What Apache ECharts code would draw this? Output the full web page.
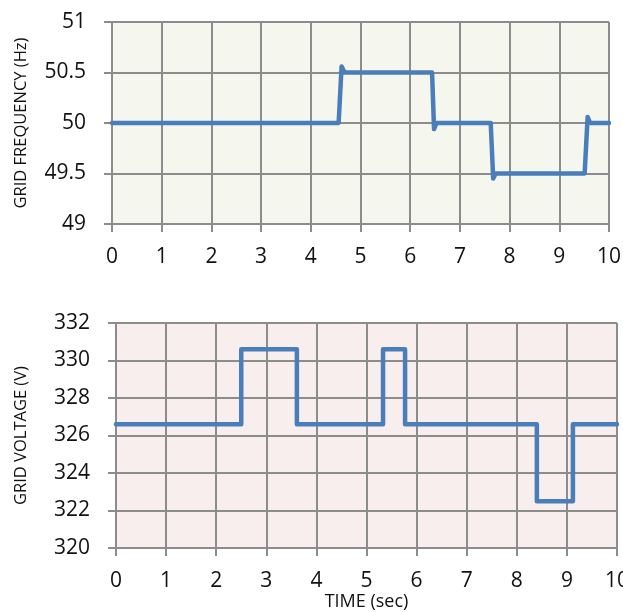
<!DOCTYPE html>
<html>
<head>
<meta charset="utf-8">
<script src="https://cdn.jsdelivr.net/npm/echarts@6/dist/echarts.min.js"></script>
<style>
  html, body { margin: 0; padding: 0; background: #fff; }
  #main { width: 623px; height: 612px; }
</style>
</head>
<body>
<div id="main"></div>
<script>
  // grid frequency (Hz) vs time (sec)
  var freqTime  = [0, 4.56, 4.62, 4.68, 6.44, 6.48, 6.53, 7.62, 7.67, 7.72, 9.51, 9.57, 9.62, 10];
  var freqValue = [50, 50, 50.56, 50.5, 50.5, 49.94, 50, 50, 49.45, 49.5, 49.5, 50.06, 50, 50];
  // grid voltage (V) vs time (sec)
  var voltTime  = [0, 2.5, 2.5, 3.61, 3.61, 5.33, 5.33, 5.77, 5.77, 8.4, 8.4, 9.12, 9.12, 10];
  var voltValue = [326.6, 326.6, 330.6, 330.6, 326.6, 326.6, 330.6, 330.6, 326.6, 326.6, 322.5, 322.5, 326.6, 326.6];

  function pairs(xs, ys) {
    var out = [];
    for (var i = 0; i < xs.length; i++) out.push([xs[i], ys[i]]);
    return out;
  }

  var fontFam = 'Open Sans';
  var gridColor = '#8c8c8c';
  var labelStyle = { color: '#111', fontSize: 21, fontFamily: fontFam };

  function xAxisFor(idx, extra) {
    var ax = {
      gridIndex: idx, type: 'value', min: 0, max: 10, interval: 1,
      axisLine: { show: true, lineStyle: { color: gridColor, width: 2 } },
      axisTick: { show: true, length: 8, lineStyle: { color: gridColor, width: 2 } },
      axisLabel: Object.assign({ margin: 23 }, labelStyle),
      splitLine: { show: true, lineStyle: { color: gridColor, width: 2 } }
    };
    return Object.assign(ax, extra || {});
  }
  function yAxisFor(idx, min, max, interval, name, gap) {
    return {
      gridIndex: idx, type: 'value', min: min, max: max, interval: interval,
      name: name, nameLocation: 'middle', nameRotate: 90, nameGap: gap,
      nameTextStyle: { color: '#111', fontSize: 16.5, fontFamily: fontFam },
      axisLine: { show: true, lineStyle: { color: gridColor, width: 2 } },
      axisTick: { show: true, length: 8, lineStyle: { color: gridColor, width: 2 } },
      axisLabel: Object.assign({ margin: 26 }, labelStyle),
      splitLine: { show: true, lineStyle: { color: gridColor, width: 2 } }
    };
  }

  var chart = echarts.init(document.getElementById('main'));
  chart.setOption({
    animation: false,
    grid: [
      { left: 112, right: 14, top: 22, height: 202, show: true, backgroundColor: '#f5f6ee', borderWidth: 0, outerBoundsMode: 'none' },
      { left: 116, right: 6, top: 323, height: 225, show: true, backgroundColor: '#f8eeed', borderWidth: 0, outerBoundsMode: 'none' }
    ],
    xAxis: [
      xAxisFor(0),
      xAxisFor(1, {
        name: 'TIME (sec)', nameLocation: 'middle', nameGap: 42,
        nameTextStyle: { color: '#111', fontSize: 18, fontFamily: fontFam }
      })
    ],
    yAxis: [
      yAxisFor(0, 49, 51, 0.5, 'GRID FREQUENCY (Hz)', 82),
      yAxisFor(1, 320, 332, 2, 'GRID VOLTAGE (V)', 86)
    ],
    series: [
      {
        type: 'line', xAxisIndex: 0, yAxisIndex: 0, data: pairs(freqTime, freqValue),
        showSymbol: false, symbol: 'none',
        lineStyle: { color: '#4a7ebb', width: 4.5, cap: 'round', join: 'round' }
      },
      {
        type: 'line', xAxisIndex: 1, yAxisIndex: 1, data: pairs(voltTime, voltValue),
        showSymbol: false, symbol: 'none',
        lineStyle: { color: '#4a7ebb', width: 4.5, cap: 'round', join: 'round' }
      }
    ]
  });
</script>
</body>
</html>
